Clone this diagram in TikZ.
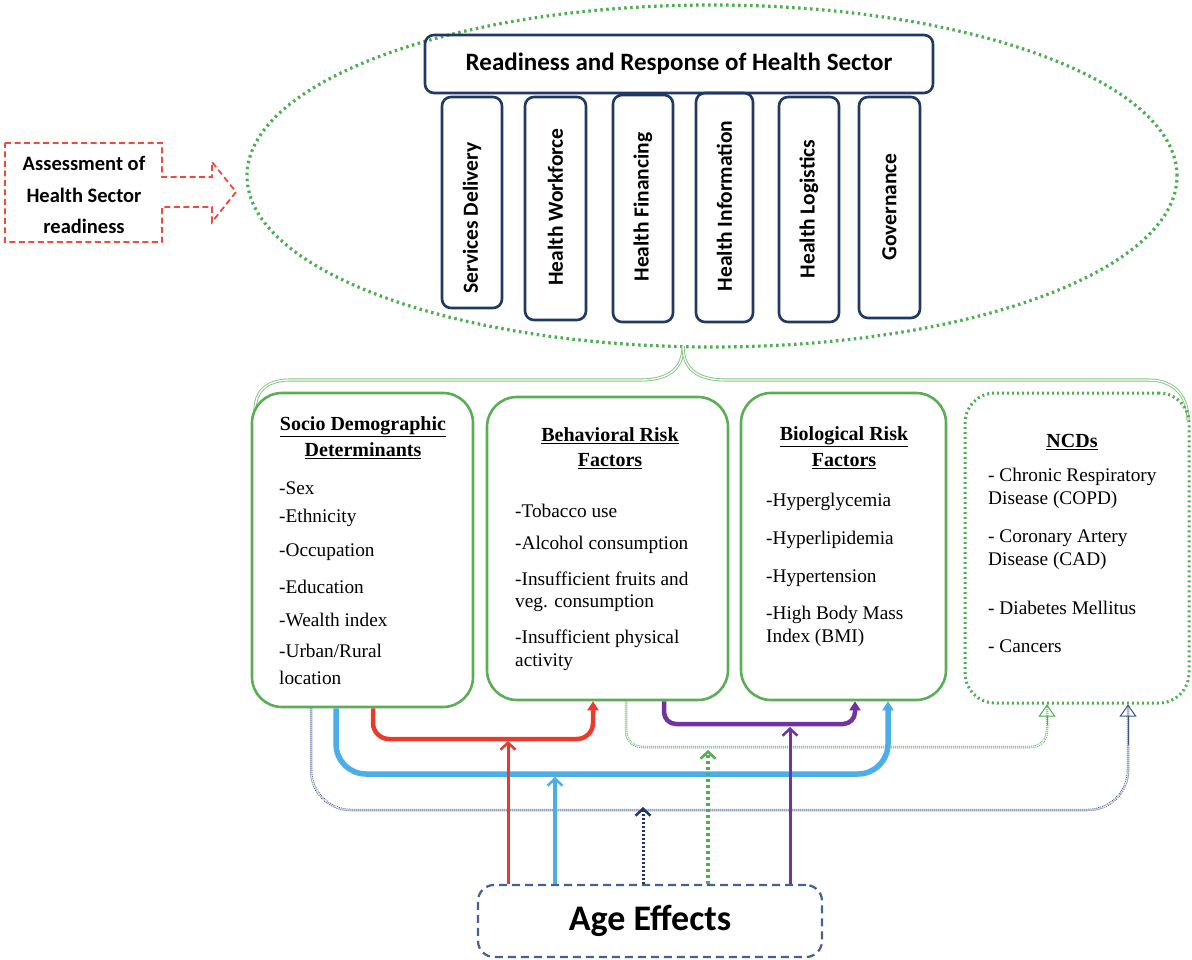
\documentclass[tikz,border=0pt]{standalone}
\usepackage{fontspec}
\setmainfont{Liberation Serif}
\newfontfamily\calib{Carlito}
\usetikzlibrary{arrows.meta,shapes.geometric}
\definecolor{gr}{HTML}{5BAE55}
\definecolor{gdot}{HTML}{4CAF50}
\definecolor{navy}{HTML}{1F3864}
\definecolor{agec}{HTML}{44618F}
\definecolor{redc}{HTML}{EA3A2C}
\definecolor{bluec}{HTML}{4BAEE8}
\definecolor{purc}{HTML}{7133A0}
\definecolor{ndot}{HTML}{3A5488}
\definecolor{ltg}{HTML}{7FC47B}
\definecolor{asr}{HTML}{EE4B3E}
\begin{document}
\begin{tikzpicture}[x=1pt,y=-1pt,
  pillar/.style={draw=navy,line width=2.6pt,rounded corners=9pt,inner sep=0pt},
  ptext/.style={font=\calib\bfseries\fontsize{21.5}{24}\selectfont,rotate=90,inner sep=0pt},
  gbox/.style={draw=gr,line width=2.6pt,rounded corners=30pt,inner sep=0pt},
  ttl/.style={font=\bfseries\fontsize{20}{24}\selectfont,inner sep=0pt},
  itm/.style={font=\fontsize{19.3}{22}\selectfont,anchor=west,inner sep=0pt},
  brace/.style={draw=ltg,line width=0.9pt,double=white,double distance=1.3pt},
  redline/.style={draw=redc,line width=4.5pt,rounded corners=16pt},
  purline/.style={draw=purc,line width=4.5pt,rounded corners=12pt},
  blueline/.style={draw=bluec,line width=5.5pt,rounded corners=30pt},
  gdline/.style={draw=gdot,line width=0.8pt,double=white,double distance=0.9pt,dash pattern=on 1pt off 1pt,rounded corners=16pt},
  ndline/.style={draw=ndot,line width=0.8pt,double=white,double distance=0.9pt,dash pattern=on 1pt off 1pt,rounded corners=40pt},
  vtip/.style={-{Straight Barb[length=7pt,width=15pt,line width=2.5pt]}},
  btip/.style={-{Triangle[length=9pt,width=11pt]}},
  otip/.style={-{Triangle[open,length=12pt,width=17pt,line width=1pt]}}
]
\useasboundingbox (0,0) rectangle (1192,960);

% assessment callout
\draw[asr,line width=1.8pt,dash pattern=on 6pt off 3.5pt]
  (5,143) -- (162,143) -- (162,177) -- (212,177) -- (212,162) -- (236,192)
  -- (212,222) -- (212,207) -- (162,207) -- (162,242) -- (5,242) -- cycle;
\node[font=\calib\bfseries\fontsize{20.5}{31.5}\selectfont,align=center,inner sep=0pt] (assess) at (84,195)
  {Assessment of\\Health Sector\\readiness};

% ellipse
\node[ellipse,draw=gdot,line width=3.2pt,dash pattern=on 2.5pt off 3.5pt,minimum width=930pt,minimum height=342pt,inner sep=0pt] (ell) at (712,176) {};

% top box and pillars
\node[pillar,minimum width=508pt,minimum height=58pt,font=\calib\bfseries\fontsize{25}{29}\selectfont] (top) at (679,64) {Readiness and Response of Health Sector};
\node[pillar,minimum width=60pt,minimum height=211pt] (p1) at (472,202.5) {};
\node[pillar,minimum width=61pt,minimum height=223pt] (p2) at (555.5,208.5) {};
\node[pillar,minimum width=60pt,minimum height=227pt] (p3) at (643,208.5) {};
\node[pillar,minimum width=57pt,minimum height=229pt] (p4) at (724.5,207.5) {};
\node[pillar,minimum width=60pt,minimum height=225pt] (p5) at (809,209.5) {};
\node[pillar,minimum width=61pt,minimum height=221pt] (p6) at (889.5,207.5) {};
\node[ptext] (t1) at (472,218) {Services Delivery};
\node[ptext] (t2) at (555.5,207) {Health Workforce};
\node[ptext] (t3) at (643,207) {Health Financing};
\node[ptext] (t4) at (724.5,206) {Health Information};
\node[ptext] (t5) at (809,209) {Health Logistics};
\node[ptext] (t6) at (889.5,207) {Governance};

% brace
\coordinate (btip) at (683,346);
\draw[brace] (btip) .. controls (683,368) and (670,380) .. (640,380) -- (290,380) .. controls (264,380) and (255,394) .. (255,410);
\draw[brace] (btip) .. controls (683,368) and (696,380) .. (726,380) -- (1148,380) .. controls (1176,380) and (1188,398) .. (1188,420);

% four boxes
\node[gbox,minimum width=221pt,minimum height=314pt] (socio) at (362.5,550) {};
\node[gbox,minimum width=241pt,minimum height=303pt] (beh) at (607.5,548.5) {};
\node[gbox,minimum width=205pt,minimum height=307pt] (bio) at (843.5,546.5) {};
\node[draw=gdot,line width=3pt,dash pattern=on 2pt off 3pt,rounded corners=30pt,inner sep=0pt,minimum width=224pt,minimum height=310pt] (ncd) at (1077,548) {};

\node[ttl] (st1) at (363,427) {\underline{Socio Demographic}};
\node[ttl] (st2) at (363,451) {\underline{Determinants}};
\node[itm] (s1) at (279,488) {-Sex};
\node[itm] (s2) at (279,518) {-Ethnicity};
\node[itm] (s3) at (279,552) {-Occupation};
\node[itm] (s4) at (279,587) {-Education};
\node[itm] (s5) at (279,620) {-Wealth index};
\node[itm] (s6) at (279,651) {-Urban/Rural};
\node[itm] (s7) at (279,678) {location};

\node[ttl] (bt1) at (610,436) {\underline{Behavioral Risk}};
\node[ttl] (bt2) at (610,461) {\underline{Factors}};
\node[itm] (b1) at (515,511) {-Tobacco use};
\node[itm] (b2) at (515,545) {-Alcohol consumption};
\node[itm] (b3) at (515,579) {-Insufficient fruits and};
\node[itm] (b4) at (515,603) {veg. consumption};
\node[itm] (b5) at (515,639) {-Insufficient physical};
\node[itm] (b6) at (515,662) {activity};

\node[ttl] (gt1) at (844,437) {\underline{Biological Risk}};
\node[ttl] (gt2) at (844,461) {\underline{Factors}};
\node[itm] (g1) at (766,502) {-Hyperglycemia};
\node[itm] (g2) at (766,540) {-Hyperlipidemia};
\node[itm] (g3) at (766,578) {-Hypertension};
\node[itm] (g4) at (766,615) {-High Body Mass};
\node[itm] (g5) at (766,638) {Index (BMI)};

\node[ttl] (nt) at (1072,442) {\underline{NCDs}};
\node[itm] (n1) at (988,477) {- Chronic Respiratory};
\node[itm] (n2) at (988,500) {Disease (COPD)};
\node[itm] (n3) at (988,538) {- Coronary Artery};
\node[itm] (n4) at (988,561) {Disease (CAD)};
\node[itm] (n5) at (988,608) {- Diabetes Mellitus};
\node[itm] (n6) at (988,646) {- Cancers};

% age box
\node[draw=agec,line width=2.2pt,dash pattern=on 8pt off 5pt,rounded corners=16pt,minimum width=344pt,minimum height=72pt,inner sep=0pt,font=\calib\bfseries\fontsize{36}{40}\selectfont] (age) at (650,921) {Age Effects};

% dotted double connectors
\draw[ndline] (311,0 |- socio.south) -- (311,810) -- (1128,810) -- (1128,0 |- ncd.south);
\draw[ndot,otip,line width=0.8pt] (1128,745) -- (1128,0 |- ncd.south);
\draw[gdline] (626,0 |- beh.south) -- (626,747) -- (1047,747) -- (1047,0 |- ncd.south);
\draw[gdot,otip,line width=0.8pt] (1047,725) -- (1047,0 |- ncd.south);

% solid connectors
\draw[blueline,btip] (336,0 |- socio.south) -- (336,774) -- (888,774) -- (888,0 |- bio.south);
\draw[redline,btip] (373,0 |- socio.south) -- (373,739) -- (593,739) -- (593,0 |- beh.south);
\draw[purline,btip] (664,0 |- beh.south) -- (664,724) -- (855,724) -- (855,0 |- bio.south);

% verticals from age
\draw[redc,line width=3pt,vtip] (508,0 |- age.north) -- (508,741);
\draw[bluec,line width=3.5pt,vtip] (555,0 |- age.north) -- (555,777);
\draw[navy,line width=3pt,dash pattern=on 2pt off 2pt,vtip] (643,0 |- age.north) -- (643,807);
\draw[gdot,line width=3.5pt,dash pattern=on 3pt off 3pt,vtip] (708,0 |- age.north) -- (708,750);
\draw[purc,line width=3pt,vtip] (790,0 |- age.north) -- (790,727);
\end{tikzpicture}
\end{document}
